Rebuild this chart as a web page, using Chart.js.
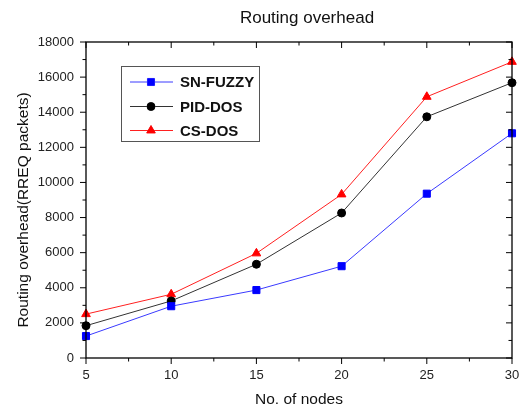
<!DOCTYPE html>
<html>
<head>
<meta charset="utf-8">
<script src="https://cdn.jsdelivr.net/npm/chart.js@4"></script>
<style>
  html, body { margin: 0; padding: 0; background: #fff; }
  #wrap { width: 520px; height: 409px; }
</style>
</head>
<body>
<div id="wrap"><canvas id="myChart" width="520" height="409"></canvas></div>
<script>
// data
const nodes = [5, 10, 15, 20, 25, 30];
const snFuzzy = [1250, 2950, 3870, 5230, 9360, 12800];
const pidDos = [1840, 3250, 5340, 8260, 13740, 15680];
const csDos = [2500, 3630, 5960, 9320, 14880, 16870];
const seriesNames = ['SN-FUZZY', 'PID-DOS', 'CS-DOS'];
const yTicks = [0, 2000, 4000, 6000, 8000, 10000, 12000, 14000, 16000, 18000];

const FONT = '"Liberation Sans", Arial, sans-serif';

function toPoints(vals) {
    return nodes.map((n, i) => ({ x: n, y: vals[i] }));
}

// frame, mirrored ticks, titles and legend box
const framePlugin = {
    id: 'frame',
    afterDraw(chart) {
        const ctx = chart.ctx;
        const a = chart.chartArea;
        const xs = chart.scales.x;
        const ys = chart.scales.y;
        ctx.save();
        ctx.strokeStyle = '#000';
        ctx.lineWidth = 1.3;
        ctx.strokeRect(a.left, a.top, a.right - a.left, a.bottom - a.top);

        ctx.lineWidth = 1;
        ctx.beginPath();
        for (let v = 5; v <= 30; v += 2.5) {
            const px = xs.getPixelForValue(v);
            const len = (v % 5 === 0) ? 6 : 3.5;
            ctx.moveTo(px, a.bottom); ctx.lineTo(px, a.bottom + len);
            ctx.moveTo(px, a.top); ctx.lineTo(px, a.top + len);
        }
        for (let v = 0; v <= 18000; v += 1000) {
            const py = ys.getPixelForValue(v);
            const len = (v % 2000 === 0) ? 6 : 3.5;
            ctx.moveTo(a.left, py); ctx.lineTo(a.left - len, py);
            ctx.moveTo(a.right, py); ctx.lineTo(a.right - len, py);
        }
        ctx.stroke();

        // chart title
        ctx.fillStyle = '#111';
        ctx.font = '17px ' + FONT;
        ctx.textAlign = 'center';
        ctx.textBaseline = 'middle';
        ctx.fillText('Routing overhead', 307, 18);

        // y axis title
        ctx.save();
        ctx.translate(24, 210);
        ctx.rotate(-Math.PI / 2);
        ctx.font = '15.5px ' + FONT;
        ctx.fillText('Routing overhead(RREQ packets)', 0, 0);
        ctx.restore();

        // legend
        const bx = 121, by = 66, bw = 138, bh = 75;
        ctx.fillStyle = '#fff';
        ctx.fillRect(bx, by, bw, bh);
        ctx.strokeStyle = '#555';
        ctx.lineWidth = 1;
        ctx.strokeRect(bx + 0.5, by + 0.5, bw, bh);
        const rows = [82, 106.5, 130.5];
        chart.data.datasets.forEach((ds, i) => {
            const y = rows[i];
            ctx.strokeStyle = ds.borderColor;
            ctx.lineWidth = 1;
            ctx.beginPath();
            ctx.moveTo(130, y); ctx.lineTo(173, y);
            ctx.stroke();
            Chart.helpers.drawPoint(ctx, {
                pointStyle: ds.pointStyle,
                radius: ds.pointRadius,
                rotation: 0,
                borderWidth: 1
            }, 151, y);
            ctx.fillStyle = ds.pointBackgroundColor;
            ctx.fill();
            ctx.fillStyle = '#111';
            ctx.font = 'bold 15px ' + FONT;
            ctx.textAlign = 'left';
            ctx.fillText(seriesNames[i], 180, y + 1);
        });
        ctx.restore();
    }
};

const ctx = document.getElementById('myChart').getContext('2d');

let myChart = new Chart(ctx, {
    type: 'line',
    data: {
        datasets: [{
            label: seriesNames[0],
            data: toPoints(snFuzzy),
            borderColor: '#3a3aff',
            backgroundColor: '#0000ff',
            pointBackgroundColor: '#0000ff',
            pointBorderColor: '#0000ff',
            pointStyle: 'rect',
            pointRadius: 5,
            borderWidth: 1
        }, {
            label: seriesNames[1],
            data: toPoints(pidDos),
            borderColor: '#333333',
            backgroundColor: '#000000',
            pointBackgroundColor: '#000000',
            pointBorderColor: '#000000',
            pointStyle: 'circle',
            pointRadius: 4,
            borderWidth: 1
        }, {
            label: seriesNames[2],
            data: toPoints(csDos),
            borderColor: '#ff2020',
            backgroundColor: '#ff0000',
            pointBackgroundColor: '#ff0000',
            pointBorderColor: '#ff0000',
            pointStyle: 'triangle',
            pointRadius: 5,
            borderWidth: 1
        }]
    },
    options: {
        responsive: false,
        animation: false,
        clip: false,
        layout: { padding: { top: 42, right: 8, left: 0, bottom: 0 } },
        plugins: {
            legend: { display: false },
            title: { display: false },
            tooltip: { enabled: false }
        },
        scales: {
            x: {
                type: 'linear',
                min: 5,
                max: 30,
                grid: { display: false, drawTicks: false },
                border: { display: false },
                ticks: {
                    stepSize: 5,
                    color: '#222',
                    font: { family: FONT, size: 13 },
                    padding: 10,
                    maxRotation: 0
                },
                title: {
                    display: true,
                    text: 'No. of nodes',
                    color: '#111',
                    font: { family: FONT, size: 15.5 },
                    padding: { top: 4, bottom: 0 }
                },
                afterFit(scale) {
                    scale.height = 51;
                    scale.paddingLeft = 0;
                    scale.paddingRight = 0;
                }
            },
            y: {
                min: 0,
                max: 18000,
                grid: { display: false, drawTicks: false },
                border: { display: false },
                afterBuildTicks(scale) {
                    scale.ticks = yTicks.map(v => ({ value: v }));
                },
                ticks: {
                    color: '#222',
                    font: { family: FONT, size: 13 },
                    padding: 12,
                    callback: v => String(v)
                },
                afterFit(scale) {
                    scale.width = 86;
                    scale.paddingTop = 0;
                    scale.paddingBottom = 0;
                }
            }
        }
    },
    plugins: [framePlugin]
});
</script>
</body>
</html>
